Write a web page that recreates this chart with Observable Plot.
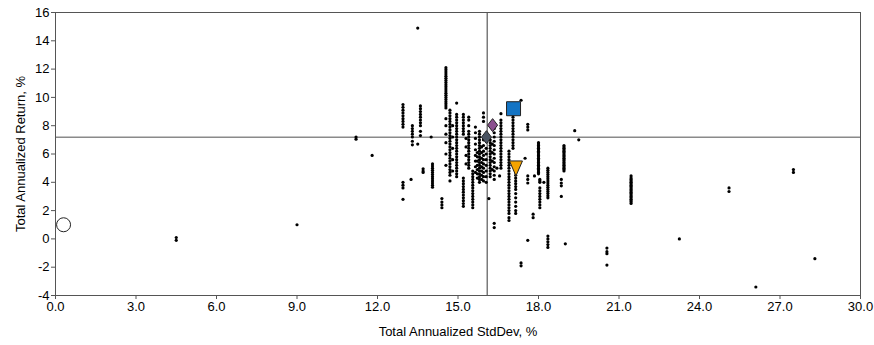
<!DOCTYPE html>
<html><head><meta charset="utf-8">
<script src="https://cdn.jsdelivr.net/npm/d3@7"></script>
<script src="https://cdn.jsdelivr.net/npm/@observablehq/plot@0.6"></script>
<style>html,body{margin:0;padding:0;background:#fff}svg{display:block}</style>
</head><body><div id="chart"></div>
<script>
const xTicks = [0, 3, 6, 9, 12, 15, 18, 21, 24, 27, 30];
const yTicks = [-4, -2, 0, 2, 4, 6, 8, 10, 12, 14, 16];
const xTitle = "Total Annualized StdDev, %";
const yTitle = "Total Annualized Return, %";
const meanStdDev = 16.09;
const meanReturn = 7.18;

// funds: [stdDev, [returns...]]
const fundColumns = [
  [4.5, [0.1, -0.1]],
  [9.0, [1.0]],
  [11.2, [7.2, 7.05]],
  [11.8, [5.9]],
  [13.5, [14.9]],
  [12.95, [9.5, 9.3, 9.1, 8.9, 8.7, 8.5, 8.3, 8.1, 7.9, 4.0, 3.8, 3.6, 2.8]],
  [13.3, [8.0, 7.8, 7.6, 7.4, 7.2, 6.9, 6.65]],
  [13.6, [9.4, 9.2, 9.0, 8.8, 8.6, 8.4, 8.2, 8.0, 7.6, 7.3]],
  [13.5, [6.7]],
  [14.0, [7.2]],
  [13.25, [4.2]],
  [13.7, [4.95, 4.8, 4.7]],
  [14.05, [5.3, 5.15, 5.0, 4.85, 4.7, 4.55, 4.4, 4.25, 4.1, 3.95, 3.8, 3.65]],
  [14.4, [2.85, 2.6, 2.4, 2.2]],
  [14.55, [12.1, 11.95, 11.8, 11.65, 11.5, 11.35, 11.2, 11.05, 10.9, 10.75, 10.6, 10.45, 10.3, 10.15, 10.0, 9.85, 9.7, 9.55, 9.4, 9.25, 8.5, 8.0, 7.4, 6.8, 6.0, 5.2]],
  [14.7, [9.1, 8.9, 8.7, 8.5, 8.3, 8.1, 7.9, 7.7, 7.5, 7.3, 7.1, 6.9, 6.7, 6.5, 6.3, 6.1, 5.9, 5.7, 5.5, 5.3, 5.1, 4.9, 4.7, 4.5, 4.1]],
  [14.8, [8.0, 7.2, 6.4, 5.6, 4.8]],
  [14.95, [9.6, 8.8, 8.6, 8.4, 8.2, 8.0, 7.8, 7.6, 7.4, 7.2, 7.0, 6.8, 6.6, 6.4, 6.2, 6.0, 5.8, 5.6, 5.4, 5.2, 5.0, 4.8, 4.6, 4.4]],
  [15.2, [8.8, 8.6, 8.4, 8.2, 8.0, 7.8, 7.6, 7.4, 4.3, 4.1, 3.9, 3.7, 3.5, 3.3, 3.1, 2.9, 2.7, 2.5, 2.3]],
  [15.3, [7.1, 6.5, 5.9, 5.3]],
  [15.4, [8.6, 8.4, 8.0, 7.6, 7.4, 7.2, 7.0, 6.8, 6.6, 6.4, 6.2, 6.0, 5.8, 5.6, 5.4, 5.2, 5.0]],
  [15.55, [4.8, 4.6, 4.4, 4.2, 4.0, 3.8, 3.6, 3.4, 3.2, 3.0, 2.8, 2.6, 2.4, 2.2]],
  [15.65, [7.9, 7.5, 7.1, 6.7, 6.3, 5.9, 5.5, 5.1, 4.7]],
  [15.72, [6.1, 5.8, 5.5, 5.2, 4.9, 4.6, 4.3]],
  [15.8, [7.6, 7.4, 7.2, 7.0, 6.8, 6.6, 6.4, 6.2, 6.0, 5.8, 5.6, 5.4, 5.2, 5.0, 4.8, 4.6, 4.4, 4.2, 4.0]],
  [15.88, [6.5, 6.1, 5.7, 5.4, 5.1, 4.8, 4.5, 4.2]],
  [15.95, [8.9, 8.6, 8.3, 7.0, 6.6, 6.2, 5.9, 5.6, 5.3, 5.0, 4.7, 4.4, 4.1]],
  [16.05, [6.4, 6.0, 5.6, 5.2, 4.8, 4.4, 4.0]],
  [16.15, [2.85]],
  [16.2, [7.0, 6.8, 6.6, 6.4, 6.2, 6.0, 5.8, 5.6, 5.4, 5.2, 5.0, 4.8, 4.6, 4.4]],
  [16.28, [6.7, 6.1, 5.5, 4.9]],
  [16.35, [8.1, 7.8, 7.5, 7.2, 6.9, 6.6, 6.3, 6.0, 5.7, 5.4, 5.1, 4.8, 4.5, 4.2, 1.1, 0.8]],
  [16.45, [5.0]],
  [16.55, [4.45]],
  [16.6, [8.85, 8.4, 8.2, 8.0, 7.8, 7.6, 7.4, 7.2, 7.0, 6.8, 6.6, 6.4, 6.2, 6.0, 5.8, 5.6, 5.4, 5.2, 5.0]],
  [16.9, [6.2, 6.0, 5.8, 5.6, 5.4, 5.2, 5.0, 4.8, 4.6, 4.4, 4.2, 4.0, 3.8, 3.6, 3.4, 3.2, 3.0, 2.8, 2.6, 2.4, 2.2, 2.0, 1.8, 1.5, 1.3]],
  [17.05, [8.8, 8.6, 8.4, 8.2, 8.0, 7.8, 7.6, 7.4, 7.2, 7.0, 6.8, 6.6, 6.4]],
  [17.15, [5.3, 5.1, 4.9, 4.7, 4.5, 4.3, 4.1, 3.9, 3.7, 3.5, 3.2, 2.9, 2.6, 2.3, 2.0, 1.8]],
  [17.35, [9.8, -1.7, -1.9]],
  [17.5, [5.7]],
  [17.6, [8.1, 7.9, 7.7, 4.45, 4.2, 3.95, -0.1]],
  [17.8, [1.75, 1.5]],
  [17.85, [4.45]],
  [18.0, [6.8, 6.7, 6.6, 6.5, 6.4, 6.3, 6.2, 6.1, 6.0, 5.9, 5.8, 5.7, 5.6, 5.5, 5.4, 5.3, 5.2, 5.1, 5.0, 4.9, 4.8, 4.7, 4.6]],
  [18.05, [4.2, 4.1, 4.0, 3.6, 3.4, 3.2, 3.0, 2.8, 2.6, 2.4, 2.2]],
  [18.2, [4.0]],
  [18.35, [5.0, 4.85, 4.7, 4.55, 4.4, 4.25, 4.1, 3.95, 3.8, 3.65, 3.5, 3.35, 3.2, 3.05, 2.9, 0.2, 0.0, -0.2, -0.4, -0.6]],
  [18.85, [4.2, 3.95, 3.75, 3.0]],
  [18.95, [6.6, 6.5, 6.4, 6.3, 6.2, 6.1, 6.0, 5.9, 5.8, 5.7, 5.6, 5.5, 5.4, 5.3, 5.2, 5.1, 5.0, 4.9, 4.8]],
  [19.0, [-0.35]],
  [19.35, [7.65]],
  [19.5, [7.0]],
  [20.55, [-0.65, -0.9, -1.05, -1.85]],
  [21.45, [4.45, 4.3, 4.2, 4.1, 4.0, 3.9, 3.8, 3.7, 3.6, 3.5, 3.4, 3.3, 3.2, 3.1, 3.0, 2.9, 2.8, 2.7, 2.6, 2.5]],
  [23.25, [0.0]],
  [25.1, [3.6, 3.35]],
  [26.1, [-3.4]],
  [27.5, [4.9, 4.7]],
  [28.3, [-1.4]]
];

// highlighted series
const markerNames = ["Cash", "Fund", "Category", "Benchmark", "Peer"];
const markerStdDev = [0.3, 17.07, 16.29, 16.06, 17.16];
const markerReturn = [1.0, 9.2, 8.04, 7.19, 5.05];

const points = fundColumns.flatMap(([x, ys]) => ys.map(y => ({x, y})));
const markers = markerNames.map((name, i) => ({name, x: markerStdDev[i], y: markerReturn[i]}));

const square = {draw(ctx, size) { const h = 7; ctx.rect(-h, -h, 2*h, 2*h); }};
const diamond = {draw(ctx, size) { ctx.moveTo(0, -6.5); ctx.lineTo(5, 0); ctx.lineTo(0, 6.5); ctx.lineTo(-5, 0); ctx.closePath(); }};
const triDown = {draw(ctx, size) { ctx.moveTo(-6.5, -6.5); ctx.lineTo(6.5, -6.5); ctx.lineTo(0, 8.5); ctx.closePath(); }};
const styles = {
  Cash: {symbol: "circle", fill: "#ffffff", r: 7},
  Fund: {symbol: square, fill: "#1474c4", r: 7},
  Category: {symbol: diamond, fill: "#8b4f8f", r: 7},
  Benchmark: {symbol: diamond, fill: "#4a5462", r: 7},
  Peer: {symbol: triDown, fill: "#f4a300", r: 7}
};

const markerMarks = markers.map(m => Plot.dot([m], {
  x: "x", y: "y", r: styles[m.name].r, symbol: styles[m.name].symbol,
  fill: styles[m.name].fill, stroke: "#222", strokeWidth: 1
}));

const chart = Plot.plot({
  width: 874, height: 345,
  marginLeft: 55, marginRight: 14, marginTop: 12, marginBottom: 50,
  style: {fontFamily: "'Liberation Sans', Arial, sans-serif", fontSize: "13px", color: "#000", background: "#fff"},
  x: {domain: [0, 30]},
  y: {domain: [-4, 16]},
  marks: [
    Plot.ruleX([meanStdDev], {stroke: "#7a7a7a", strokeWidth: 1.5}),
    Plot.ruleY([meanReturn], {stroke: "#8a8a8a", strokeWidth: 1.5}),
    Plot.dot(points, {x: "x", y: "y", r: 1.6, fill: "#000", stroke: "none"}),
    ...markerMarks,
    Plot.frame({stroke: "#555"}),
    Plot.axisX({ticks: xTicks, tickFormat: d => d.toFixed(1), tickSize: 4, tickPadding: 2, stroke: "#555",
      label: xTitle, labelAnchor: "center", labelOffset: 40, labelArrow: "none", fontSize: 13}),
    Plot.axisY({ticks: yTicks, tickFormat: d => String(d), tickSize: 4, tickPadding: 2, stroke: "#555",
      label: yTitle, labelAnchor: "center", labelOffset: 40, labelArrow: "none", fontSize: 13})
  ]
});
document.getElementById("chart").appendChild(chart);
</script>
</body></html>
